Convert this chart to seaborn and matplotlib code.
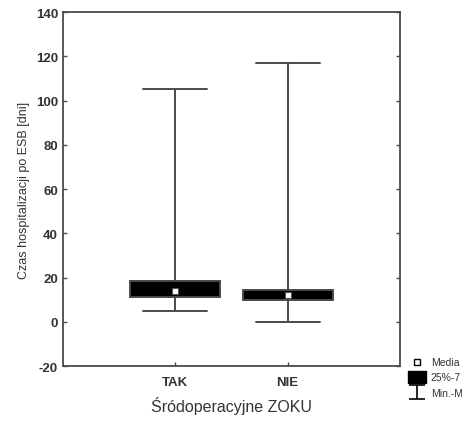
import pandas as pd
import matplotlib
matplotlib.use("Agg")
import matplotlib.pyplot as plt
import seaborn as sns
from matplotlib.lines import Line2D
from matplotlib.path import Path

# Dane (min, Q1, mediana, Q3, max)
grupy = ["TAK", "NIE"]
tak_wartosci = [5, 11, 14, 18.5, 105]
nie_wartosci = [0, 10, 12, 14.5, 117]
y_ticks = [-20, 0, 20, 40, 60, 80, 100, 120, 140]
# w oryginale legenda jest ucięta na krawędzi rysunku
etykiety_legendy = ["Media", "25%-7", "Min.-M"]

sns.set_style("ticks")
plt.rcParams['font.family'] = ['Liberation Sans', 'DejaVu Sans']
plt.rcParams['axes.unicode_minus'] = False
kolor_tekstu = "#333333"
kolor_linii = "#4a4a4a"

df = pd.DataFrame({
    "grupa": ["TAK"] * len(tak_wartosci) + ["NIE"] * len(nie_wartosci),
    "czas": tak_wartosci + nie_wartosci,
})

fig = plt.figure(figsize=(4.62, 4.27), dpi=100)
ax = fig.add_axes([0.136, 0.1405, 0.73, 0.829])

sns.boxplot(data=df, x="grupa", y="czas", order=grupy, whis=(0, 100),
            width=0.8, color="black", saturation=1, linecolor=kolor_linii,
            linewidth=1.4, fliersize=0, capwidths=0.57,
            medianprops=dict(linewidth=0), ax=ax)

sns.pointplot(data=df, x="grupa", y="czas", order=grupy, estimator="median",
              errorbar=None, marker="s", linestyle="none", color="white",
              markersize=4.5, markeredgecolor="#555555", markeredgewidth=0.8,
              ax=ax)

ax.set_xlim(-1, 2)
ax.set_ylim(-20, 140)
ax.set_yticks(y_ticks)
ax.tick_params(axis="both", direction="in", length=3, width=1,
               color=kolor_linii, labelcolor=kolor_tekstu)
ax.tick_params(axis="y", right=True, labelsize=9.5)
ax.tick_params(axis="x", labelsize=9.5, pad=7)
for lab in ax.get_xticklabels() + ax.get_yticklabels():
    lab.set_fontweight("bold")
for s in ax.spines.values():
    s.set_color(kolor_linii)
    s.set_linewidth(1.3)

ax.set_xlabel("Śródoperacyjne ZOKU", fontsize=11.5, color=kolor_tekstu, labelpad=6)
ax.set_ylabel("Czas hospitalizacji po ESB [dni]", fontsize=9, color=kolor_tekstu, labelpad=4)

# Symbole legendy: kwadrat mediany, prostokąt kwartyli, wąsy min-max
prostokat = Path([(-1.6, -1), (1.6, -1), (1.6, 1), (-1.6, 1), (-1.6, -1)],
                 [Path.MOVETO, Path.LINETO, Path.LINETO, Path.LINETO, Path.CLOSEPOLY])
wasy = Path([(-1, 0.8), (1, 0.8), (0, 0.8), (0, -0.8), (-1, -0.8), (1, -0.8)],
            [Path.MOVETO, Path.LINETO, Path.MOVETO, Path.LINETO, Path.MOVETO, Path.LINETO])
uchwyty = [
    Line2D([], [], marker="s", linestyle="none", markerfacecolor="white",
           markeredgecolor="black", markersize=5, markeredgewidth=1),
    Line2D([], [], marker=prostokat, linestyle="none", markerfacecolor="black",
           markeredgecolor="black", markersize=13),
    Line2D([], [], marker=wasy, linestyle="none", markerfacecolor="none",
           markeredgecolor="black", markersize=12, markeredgewidth=1.2),
]
fig.legend(uchwyty, etykiety_legendy,
           loc="upper left", bbox_to_anchor=(0.885, 0.161), frameon=False,
           fontsize=7.5, handlelength=1.6, handletextpad=0.5, labelspacing=0.5,
           borderaxespad=0, borderpad=0, labelcolor=kolor_tekstu)

fig.savefig("out.png", dpi=100)
